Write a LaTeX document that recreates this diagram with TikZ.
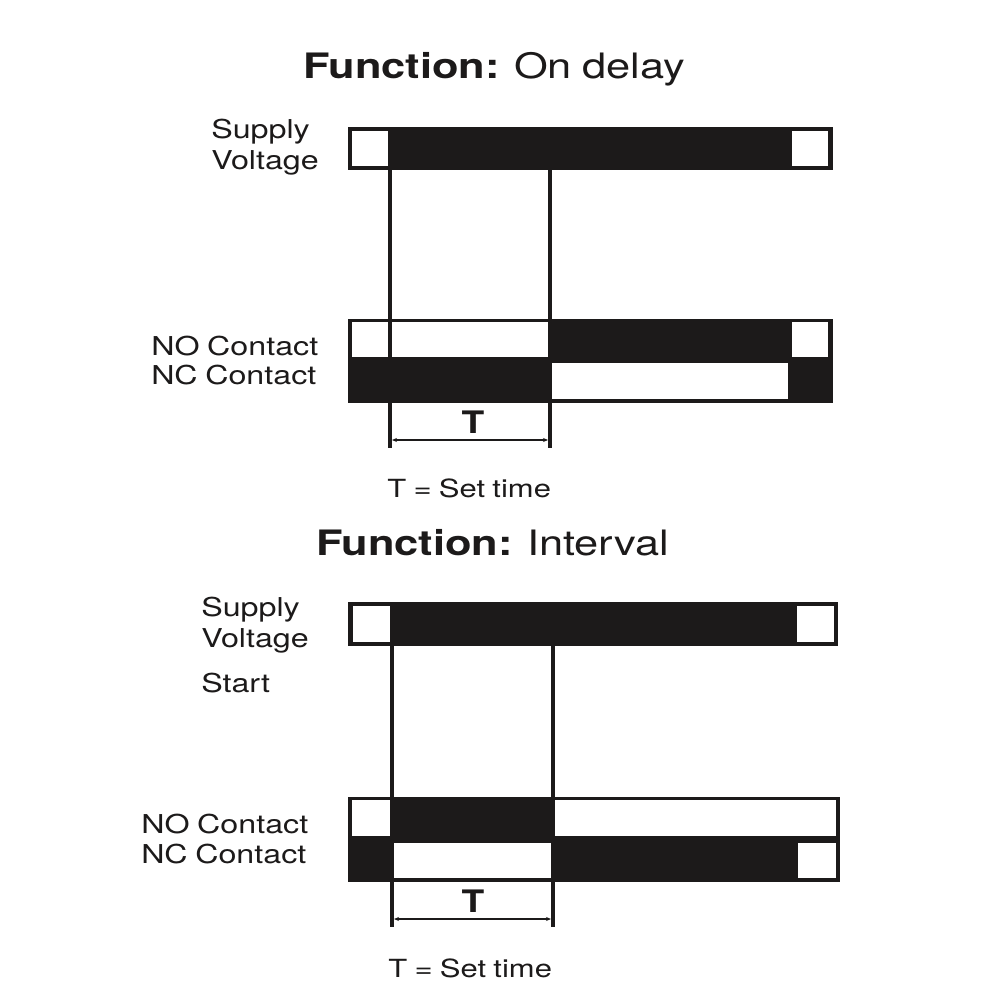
\documentclass[tikz,border=0pt]{standalone}
\usepackage{fontspec}
\setmainfont{TeX Gyre Heros}[WordSpace=0.85]
\usepackage{tikz}
\usetikzlibrary{arrows.meta}

\definecolor{ink}{HTML}{1C1A1A}

\tikzset{
  bar/.style={fill=ink},
  gap/.style={fill=white},
  tline/.style={draw=ink, line width=3.2pt},
  dim/.style={draw=ink, line width=1.6pt, {Stealth[length=5pt,width=4pt]}-{Stealth[length=5pt,width=4pt]}},
  ttl/.style={anchor=base west, inner sep=0pt, text=ink, font=\fontsize{35}{40}\selectfont, xscale=1.24},
  lbl/.style={anchor=base west, inner sep=0pt, text=ink, font=\fontsize{26}{30}\selectfont, xscale=1.24},
  tlbl/.style={anchor=base, inner sep=0pt, text=ink, font=\fontsize{31}{36}\selectfont\bfseries, xscale=1.2},
  note/.style={anchor=base west, inner sep=0pt, text=ink, font=\fontsize{25}{30}\selectfont, xscale=1.24}
}

\begin{document}
\begin{tikzpicture}[x=1pt,y=-1pt]
\useasboundingbox (0,0) rectangle (1000,1000);

% On delay
\begin{scope}
    \node[ttl] (title1) at (303,79) {\textbf{Function:} On delay};
    \node[lbl] (sup1) at (211,139) {Supply};
    \node[lbl] (volt1) at (211,170) {Voltage};
    \node[lbl] (no1) at (151,355) {NO Contact};
    \node[lbl] (nc1) at (151,384) {NC Contact};

    % supply voltage
    \path[bar] (348,127) rectangle (833,170);
    \path[gap] (352,131) rectangle (388,166);
    \path[gap] (792,131) rectangle (828,166);

    % contacts
    \path[bar] (348,319) rectangle (833,403);
    \path[gap] (352,322) rectangle (388,357);
    \path[gap] (392,322) rectangle (548,357);
    \path[gap] (792,322) rectangle (828,357);
    \path[gap] (552,363) rectangle (788,399);

    \coordinate (a1) at (390,170);
    \coordinate (b1) at (390,448);
    \coordinate (c1) at (550,170);
    \coordinate (d1) at (550,448);
    \coordinate (e1) at (390,440);
    \coordinate (f1) at (550,440);

    \path[tline] (a1) -- (b1);
    \path[tline] (c1) -- (d1);
    \path[dim] ([xshift=2pt]e1) -- ([xshift=-2pt]f1);

    \node[tlbl] (t1) at (473,433) {T};
    \node[note] (set1) at (387,497) {T = Set time};
\end{scope}

% Interval
\begin{scope}
    \node[ttl] (title2) at (316,555) {\textbf{Function:} Interval};
    \node[lbl] (sup2) at (201,616) {Supply};
    \node[lbl] (volt2) at (201,647) {Voltage};
    \node[lbl] (start2) at (201,692) {Start};
    \node[lbl] (no2) at (141,833) {NO Contact};
    \node[lbl] (nc2) at (141,863) {NC Contact};

    % supply voltage
    \path[bar] (348,602) rectangle (838,646);
    \path[gap] (353,606) rectangle (390,642);
    \path[gap] (797,606) rectangle (834,642);

    % contacts
    \path[bar] (348,797) rectangle (840,882);
    \path[gap] (352,800) rectangle (390,836);
    \path[gap] (555,800) rectangle (836,836);
    \path[gap] (394,843) rectangle (552,878);
    \path[gap] (798,843) rectangle (836,878);

    \coordinate (a2) at (392,646);
    \coordinate (b2) at (392,927);
    \coordinate (c2) at (553,646);
    \coordinate (d2) at (553,927);
    \coordinate (e2) at (392,919);
    \coordinate (f2) at (553,919);

    \path[tline] (a2) -- (b2);
    \path[tline] (c2) -- (d2);
    \path[dim] ([xshift=2pt]e2) -- ([xshift=-2pt]f2);

    \node[tlbl] (t2) at (473,912) {T};
    \node[note] (set2) at (388,977) {T = Set time};
\end{scope}
\end{tikzpicture}
\end{document}
